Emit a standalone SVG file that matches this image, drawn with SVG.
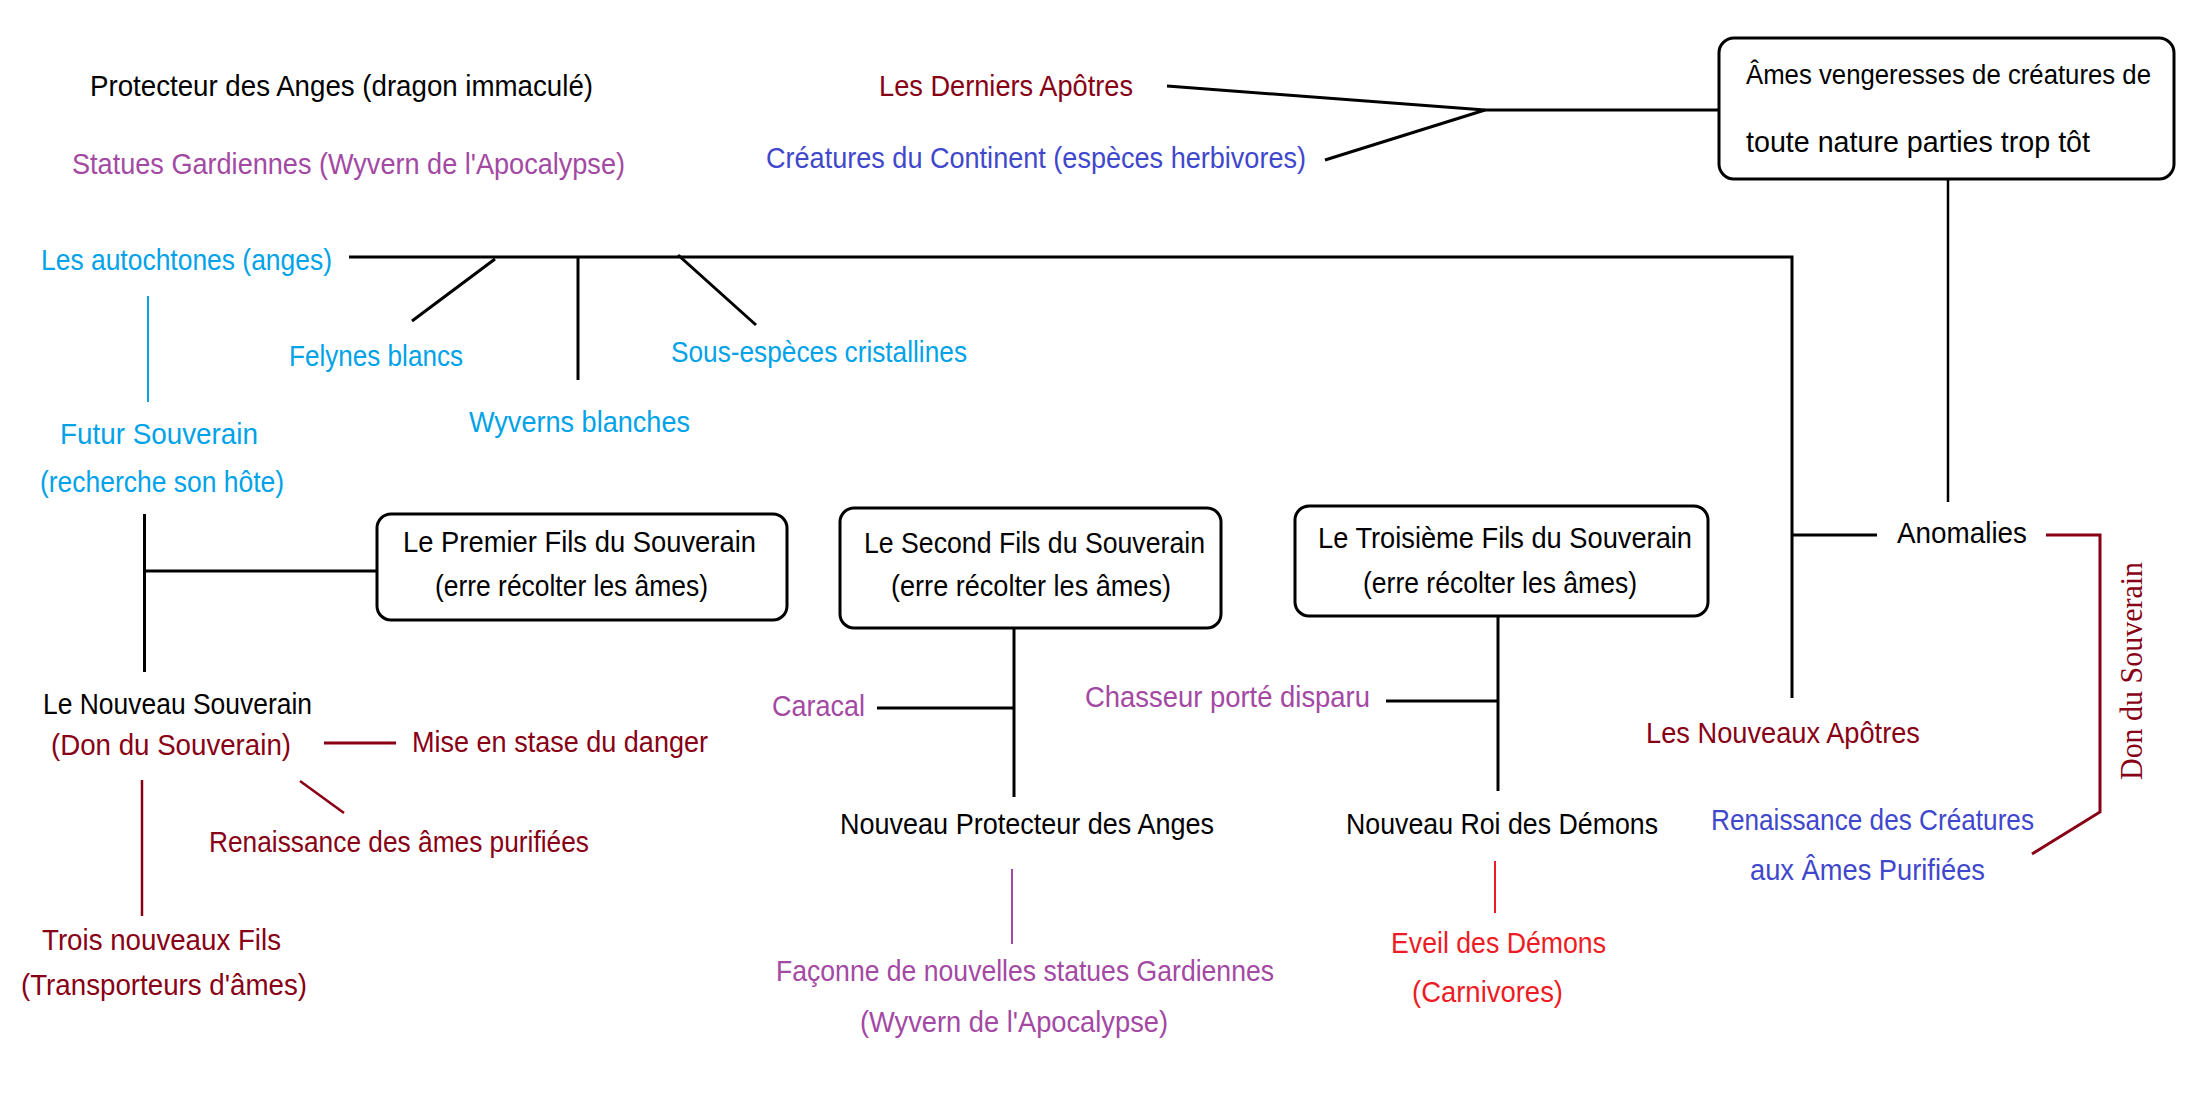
<svg xmlns="http://www.w3.org/2000/svg" width="2201" height="1117" viewBox="0 0 2201 1117">
<style>
text{font-family:"Liberation Sans","Open Sans",sans-serif;font-size:30px}
.k{fill:#000}.dr{fill:#880015}.bl{fill:#3F48CC}.cy{fill:#00A2E8}.pu{fill:#A349A4}.rd{fill:#ED1C24}
.box{fill:none;stroke:#000;stroke-width:3}
.c{fill:none;stroke:#000;stroke-width:3}
.c2{fill:none;stroke-width:2}
.ddon{font-family:"Liberation Serif",serif;font-size:32px}
</style>
<rect width="2201" height="1117" fill="#fff"/>
<g id="connectors">
<line class="c" x1="1167" y1="86" x2="1485" y2="110"/>
<line class="c" x1="1325" y1="160" x2="1485" y2="110"/>
<line class="c" x1="1485" y1="110" x2="1719" y2="110"/>
<line class="c" x1="1948" y1="178" x2="1948" y2="502" style="stroke-width:2.5"/>
<polyline class="c" points="349,257 1792,257 1792,698"/>
<line class="c" x1="1792" y1="535" x2="1877" y2="535"/>
<line class="c" x1="495" y1="259" x2="412" y2="321"/>
<line class="c" x1="578" y1="257" x2="578" y2="380"/>
<line class="c" x1="678" y1="255" x2="756" y2="325"/>
<line class="c2" x1="148" y1="296" x2="148" y2="402" stroke="#00A2E8"/>
<line class="c" x1="144.5" y1="514" x2="144.5" y2="672"/>
<line class="c" x1="144.5" y1="571" x2="377" y2="571"/>
<line class="c" x1="1014" y1="628" x2="1014" y2="797"/>
<line class="c" x1="877" y1="708" x2="1014" y2="708"/>
<line class="c2" x1="1012" y1="869" x2="1012" y2="944" stroke="#A349A4"/>
<line class="c" x1="1498" y1="616" x2="1498" y2="791"/>
<line class="c" x1="1386" y1="701" x2="1498" y2="701"/>
<line class="c2" x1="1495" y1="861" x2="1495" y2="913" stroke="#ED1C24"/>
<line class="c" x1="324" y1="743" x2="396" y2="743" style="stroke:#880015"/>
<line class="c2" x1="300" y1="781" x2="344" y2="813" stroke="#880015" style="stroke-width:2.5"/>
<line class="c2" x1="142" y1="780" x2="142" y2="916" stroke="#880015" style="stroke-width:2.5"/>
<polyline class="c" points="2046,535 2100,535 2100,812 2032,854" style="stroke:#880015"/>
</g>
<g id="n-protecteur"><text class="k" x="90" y="96" textLength="503" lengthAdjust="spacingAndGlyphs">Protecteur des Anges (dragon immaculé)</text></g>
<g id="n-statues"><text class="pu" x="72" y="174" textLength="553" lengthAdjust="spacingAndGlyphs">Statues Gardiennes (Wyvern de l'Apocalypse)</text></g>
<g id="n-derniers"><text class="dr" x="879" y="96" textLength="254" lengthAdjust="spacingAndGlyphs">Les Derniers Apôtres</text></g>
<g id="n-creatures"><text class="bl" x="766" y="168" textLength="540" lengthAdjust="spacingAndGlyphs">Créatures du Continent (espèces herbivores)</text></g>
<g id="n-ames">
<rect class="box" x="1719" y="38" width="455" height="141" rx="15"/>
<text class="k" x="1746" y="84" style="font-size:27px" textLength="405" lengthAdjust="spacingAndGlyphs">Âmes vengeresses de créatures de</text>
<text class="k" x="1746" y="152" textLength="344" lengthAdjust="spacingAndGlyphs">toute nature parties trop tôt</text>
</g>
<g id="n-autochtones"><text class="cy" x="41" y="270" textLength="291" lengthAdjust="spacingAndGlyphs">Les autochtones (anges)</text></g>
<g id="n-felynes"><text class="cy" x="289" y="366" textLength="174" lengthAdjust="spacingAndGlyphs">Felynes blancs</text></g>
<g id="n-wyverns"><text class="cy" x="469" y="432" textLength="221" lengthAdjust="spacingAndGlyphs">Wyverns blanches</text></g>
<g id="n-sousesp"><text class="cy" x="671" y="362" textLength="296" lengthAdjust="spacingAndGlyphs">Sous-espèces cristallines</text></g>
<g id="n-futur">
<text class="cy" x="60" y="444" textLength="198" lengthAdjust="spacingAndGlyphs">Futur Souverain</text>
<text class="cy" x="40" y="492" textLength="244" lengthAdjust="spacingAndGlyphs">(recherche son hôte)</text>
</g>
<g id="n-premier">
<rect class="box" x="377" y="514" width="410" height="106" rx="14"/>
<text class="k" x="403" y="552" textLength="353" lengthAdjust="spacingAndGlyphs">Le Premier Fils du Souverain</text>
<text class="k" x="435" y="596" textLength="273" lengthAdjust="spacingAndGlyphs">(erre récolter les âmes)</text>
</g>
<g id="n-second">
<rect class="box" x="840" y="508" width="381" height="120" rx="14"/>
<text class="k" x="864" y="553" textLength="341" lengthAdjust="spacingAndGlyphs">Le Second Fils du Souverain</text>
<text class="k" x="891" y="596" textLength="280" lengthAdjust="spacingAndGlyphs">(erre récolter les âmes)</text>
</g>
<g id="n-troisieme">
<rect class="box" x="1295" y="506" width="413" height="110" rx="14"/>
<text class="k" x="1318" y="548" textLength="374" lengthAdjust="spacingAndGlyphs">Le Troisième Fils du Souverain</text>
<text class="k" x="1363" y="593" textLength="274" lengthAdjust="spacingAndGlyphs">(erre récolter les âmes)</text>
</g>
<g id="n-anomalies"><text class="k" x="1897" y="543" textLength="130" lengthAdjust="spacingAndGlyphs">Anomalies</text></g>
<g id="n-nouveaux-apotres"><text class="dr" x="1646" y="743" textLength="274" lengthAdjust="spacingAndGlyphs">Les Nouveaux Apôtres</text></g>
<g id="n-renaissance-creatures">
<text class="bl" x="1711" y="830" textLength="323" lengthAdjust="spacingAndGlyphs">Renaissance des Créatures</text>
<text class="bl" x="1750" y="880" textLength="235" lengthAdjust="spacingAndGlyphs">aux Âmes Purifiées</text>
</g>
<g id="n-don-souverain-label"><text class="dr ddon" transform="translate(2142,780) rotate(-90)" x="0" y="0" textLength="218" lengthAdjust="spacingAndGlyphs">Don du Souverain</text></g>
<g id="n-nouveau-souverain">
<text class="k" x="43" y="714" textLength="269" lengthAdjust="spacingAndGlyphs">Le Nouveau Souverain</text>
<text class="dr" x="51" y="755" textLength="240" lengthAdjust="spacingAndGlyphs">(Don du Souverain)</text>
</g>
<g id="n-stase"><text class="dr" x="412" y="752" textLength="296" lengthAdjust="spacingAndGlyphs">Mise en stase du danger</text></g>
<g id="n-renaissance-ames"><text class="dr" x="209" y="852" textLength="380" lengthAdjust="spacingAndGlyphs">Renaissance des âmes purifiées</text></g>
<g id="n-trois-fils">
<text class="dr" x="42" y="950" textLength="239" lengthAdjust="spacingAndGlyphs">Trois nouveaux Fils</text>
<text class="dr" x="21" y="995" textLength="286" lengthAdjust="spacingAndGlyphs">(Transporteurs d'âmes)</text>
</g>
<g id="n-caracal"><text class="pu" x="772" y="716" textLength="93" lengthAdjust="spacingAndGlyphs">Caracal</text></g>
<g id="n-nouveau-protecteur"><text class="k" x="840" y="834" textLength="374" lengthAdjust="spacingAndGlyphs">Nouveau Protecteur des Anges</text></g>
<g id="n-faconne">
<text class="pu" x="776" y="981" textLength="498" lengthAdjust="spacingAndGlyphs">Façonne de nouvelles statues Gardiennes</text>
<text class="pu" x="860" y="1032" textLength="308" lengthAdjust="spacingAndGlyphs">(Wyvern de l'Apocalypse)</text>
</g>
<g id="n-chasseur"><text class="pu" x="1085" y="707" textLength="285" lengthAdjust="spacingAndGlyphs">Chasseur porté disparu</text></g>
<g id="n-roi-demons"><text class="k" x="1346" y="834" textLength="312" lengthAdjust="spacingAndGlyphs">Nouveau Roi des Démons</text></g>
<g id="n-eveil">
<text class="rd" x="1391" y="953" textLength="215" lengthAdjust="spacingAndGlyphs">Eveil des Démons</text>
<text class="rd" x="1412" y="1002" textLength="151" lengthAdjust="spacingAndGlyphs">(Carnivores)</text>
</g>
</svg>
